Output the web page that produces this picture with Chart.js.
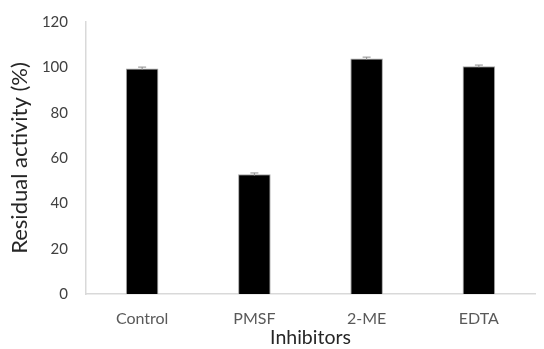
<!DOCTYPE html>
<html>
<head>
<meta charset="utf-8">
<script src="https://cdn.jsdelivr.net/npm/chart.js@4/dist/chart.umd.min.js"></script>
<style>
  html, body { margin: 0; padding: 0; background: #fff; }
  #wrap { width: 544px; height: 349px; }
</style>
</head>
<body>
<div id="wrap"><canvas id="myChart" width="544" height="349"></canvas></div>
<script>
const categories = ["Control", "PMSF", "2-ME", "EDTA"];
const activity = [99.5, 52.8, 103.9, 100.5];
const errors = [0.6, 0.6, 0.6, 0.5];
const yTicks = [0, 20, 40, 60, 80, 100, 120];

const textColor = "#595959";
const axisColor = "#d9d9d9";

// small error caps on top of each bar
const errorBars = {
    id: "errorBars",
    afterDatasetsDraw(chart) {
        const ctx = chart.ctx;
        const meta = chart.getDatasetMeta(0);
        const y = chart.scales.y;
        ctx.save();
        ctx.strokeStyle = "#8c8c8c";
        ctx.lineWidth = 1;
        meta.data.forEach((bar, i) => {
            const top = y.getPixelForValue(activity[i] + errors[i]);
            const bot = y.getPixelForValue(activity[i] - errors[i]);
            ctx.beginPath();
            ctx.moveTo(bar.x, top);
            ctx.lineTo(bar.x, bot);
            ctx.moveTo(bar.x - 4, top);
            ctx.lineTo(bar.x + 4, top);
            ctx.stroke();
        });
        ctx.restore();
    }
};

new Chart(document.getElementById("myChart"), {
    type: "bar",
    data: {
        labels: categories,
        datasets: [{
            label: "Residual activity",
            data: activity,
            backgroundColor: "#000000",
            borderColor: "#a6a6a6",
            borderWidth: 1,
            categoryPercentage: 1,
            barPercentage: 0.29,
        }],
    },
    options: {
        responsive: false,
        animation: false,
        layout: { padding: { top: 0, right: 9, left: 0, bottom: 0 } },
        plugins: {
            legend: { display: false },
            tooltip: { enabled: false },
        },
        scales: {
            x: {
                grid: { display: false, drawTicks: false },
                border: { color: axisColor, width: 1.5 },
                ticks: {
                    color: textColor,
                    padding: 15,
                    font: { family: "Lato", size: 16 },
                },
                title: {
                    display: true,
                    text: "Inhibitors",
                    color: "#262626",
                    padding: { top: 0, bottom: 0 },
                    font: { family: "Lato", size: 19.5 },
                },
                afterFit(scale) { scale.height = 55; },
            },
            y: {
                min: 0,
                max: 120,
                afterBuildTicks(scale) {
                    scale.ticks = yTicks.map(v => ({ value: v }));
                },
                grid: { display: false, drawTicks: false },
                border: { color: axisColor, width: 1.5 },
                ticks: {
                    color: "#404040",
                    padding: 18,
                    font: { family: "Lato", size: 15 },
                },
                title: {
                    display: true,
                    text: "Residual activity (%)",
                    color: "#262626",
                    padding: { top: 7, bottom: 0 },
                    font: { family: "Lato", size: 22 },
                },
                afterFit(scale) {
                    scale.width = 86;
                    scale.paddingTop = 22;
                },
            },
        },
    },
    plugins: [errorBars],
});
</script>
</body>
</html>
